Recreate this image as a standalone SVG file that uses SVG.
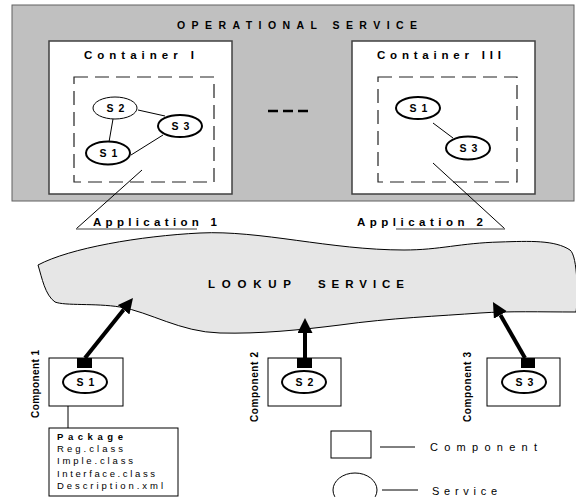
<svg xmlns="http://www.w3.org/2000/svg" width="576" height="497" viewBox="0 0 576 497">
<style>
text{font-family:"Liberation Sans",Arial,sans-serif;fill:#000}
.b{font-weight:bold}
.ttl{font-size:10.5px;font-weight:bold}
.lbl{font-size:11.5px;font-weight:bold}
.sv{font-size:10.5px;font-weight:bold;text-anchor:middle;letter-spacing:1px}
.cont{fill:#fff;stroke:#404040;stroke-width:1.5}
.dash{fill:none;stroke:#222;stroke-width:1.2;stroke-dasharray:14 7}
.svc{fill:#fff;stroke:#000;stroke-width:2}
.svt{fill:#fff;stroke:#000;stroke-width:1}
.thin{stroke:#000;stroke-width:1;fill:none}
.comp{fill:#fff;stroke:#000;stroke-width:1}
.arr{stroke:#000;stroke-width:4;fill:none}
.pk{font-size:9.5px}
.vl{font-size:10px;font-weight:bold}
.lg{font-size:11px}
</style>
<defs>
<marker id="ah" markerUnits="userSpaceOnUse" markerWidth="16" markerHeight="16" refX="0" refY="7.5" orient="auto">
<path d="M0,0 L15,7.5 L0,15 z" fill="#000"/>
</marker>
</defs>

<g id="operational-service">
<rect x="12" y="5" width="562" height="196" fill="#c0c0c0" stroke="#606060" stroke-width="1"/>
<text class="ttl" x="177" y="29" textLength="240" lengthAdjust="spacing">OPERATIONAL SERVICE</text>
<g stroke="#000" stroke-width="2.5">
<line x1="268" y1="111" x2="278" y2="111"/>
<line x1="283" y1="111" x2="293" y2="111"/>
<line x1="298" y1="111" x2="308" y2="111"/>
</g>
</g>

<g id="container-1">
<rect class="cont" x="49" y="41" width="183" height="153"/>
<text class="lbl" x="84" y="59" textLength="110" lengthAdjust="spacing">Container I</text>
<rect class="dash" x="74" y="77" width="140" height="105"/>
<line class="thin" x1="138" y1="110" x2="165" y2="116"/>
<line class="thin" x1="113" y1="119" x2="109" y2="142"/>
<line class="thin" x1="131" y1="155" x2="163" y2="135"/>
<ellipse class="svt" cx="115" cy="108" rx="22" ry="11"/>
<text class="sv" x="116" y="112">S 2</text>
<ellipse class="svc" cx="180" cy="126" rx="22" ry="11"/>
<text class="sv" x="181" y="130">S 3</text>
<ellipse class="svc" cx="108" cy="153" rx="22" ry="11.5"/>
<text class="sv" x="109" y="157">S 1</text>
</g>

<g id="container-3">
<rect class="cont" x="352" y="41" width="183" height="153"/>
<text class="lbl" x="377" y="59" textLength="124" lengthAdjust="spacing">Container III</text>
<rect class="dash" x="378" y="77" width="139" height="105"/>
<line class="thin" x1="433" y1="123" x2="453" y2="138"/>
<ellipse class="svc" cx="418" cy="108" rx="22" ry="11"/>
<text class="sv" x="419" y="112">S 1</text>
<ellipse class="svc" cx="468" cy="148" rx="22" ry="11.5"/>
<text class="sv" x="469" y="152">S 3</text>
</g>

<g id="application-1">
<line class="thin" x1="142" y1="170" x2="76" y2="229"/>
<line x1="76" y1="229" x2="197" y2="229" stroke="#808080" stroke-width="1.5"/>
<text class="lbl" x="93" y="226" textLength="124" lengthAdjust="spacing">Application 1</text>
</g>

<g id="application-2">
<line class="thin" x1="433" y1="163" x2="505" y2="229"/>
<line x1="396" y1="229" x2="505" y2="229" stroke="#808080" stroke-width="1.5"/>
<text class="lbl" x="357" y="226" textLength="126" lengthAdjust="spacing">Application 2</text>
</g>

<g id="lookup-service">
<path d="M38,265 C70,248 140,236 200,233 C260,230 330,250 404,250 C440,250 460,243 500,242 C530,241 555,240 570,250 C578,256 578,300 576,312 C540,312 510,311 480,313 C440,316 390,318 340,325 C300,330 260,334 220,333 C180,332 150,312 120,307 C95,303 65,306 55,302 C45,295 42,278 38,265 Z" fill="#e6e6e6" stroke="#000" stroke-width="1"/>
<text class="lbl" x="208" y="287.5" textLength="83" lengthAdjust="spacing">LOOKUP</text>
<text class="lbl" x="318" y="287.5" textLength="86" lengthAdjust="spacing">SERVICE</text>
</g>

<g id="component-1">
<rect class="comp" x="49" y="358" width="74" height="48"/>
<rect x="77" y="358" width="15" height="10" fill="#000"/>
<ellipse class="svc" cx="85" cy="382" rx="22" ry="11"/>
<text class="sv" x="86" y="386">S 1</text>
<text class="vl" x="39" y="418" transform="rotate(-90 39 418)" textLength="68" lengthAdjust="spacing">Component 1</text>
</g>

<g id="component-2">
<rect class="comp" x="268" y="358" width="73" height="48"/>
<rect x="297" y="358" width="15" height="10" fill="#000"/>
<ellipse class="svc" cx="304" cy="382" rx="22" ry="11"/>
<text class="sv" x="305" y="386">S 2</text>
<text class="vl" x="258" y="422" transform="rotate(-90 258 422)" textLength="70" lengthAdjust="spacing">Component 2</text>
</g>

<g id="component-3">
<rect class="comp" x="487" y="358" width="73" height="48"/>
<rect x="521" y="358" width="14" height="10" fill="#000"/>
<ellipse class="svc" cx="524" cy="382" rx="22" ry="11"/>
<text class="sv" x="525" y="386">S 3</text>
<text class="vl" x="471" y="422" transform="rotate(-90 471 422)" textLength="70" lengthAdjust="spacing">Component 3</text>
</g>

<g id="package">
<rect class="comp" x="49" y="428" width="129" height="68"/>
<text class="pk b" x="57" y="440" textLength="66" lengthAdjust="spacing">Package</text>
<text class="pk" x="57" y="452" textLength="66" lengthAdjust="spacing">Reg.class</text>
<text class="pk" x="57" y="464" textLength="76" lengthAdjust="spacing">Imple.class</text>
<text class="pk" x="57" y="477" textLength="98" lengthAdjust="spacing">Interface.class</text>
<text class="pk" x="57" y="489" textLength="106" lengthAdjust="spacing">Description.xml</text>
</g>

<g id="legend">
<rect class="comp" x="331" y="431" width="40" height="27"/>
<line class="thin" x1="380" y1="447" x2="415" y2="447"/>
<text class="lg" x="430" y="451" textLength="107" lengthAdjust="spacing">Component</text>
<ellipse class="svt" cx="355" cy="490" rx="22" ry="17"/>
<line class="thin" x1="382" y1="490" x2="418" y2="490"/>
<text class="lg" x="432" y="495" textLength="65" lengthAdjust="spacing">Service</text>
</g>

<g id="connectors">
<line class="thin" x1="68" y1="406" x2="68" y2="428"/>
<line class="arr" x1="85" y1="358" x2="123.6" y2="309.7" marker-end="url(#ah)"/>
<line class="arr" x1="305" y1="358" x2="305" y2="333" marker-end="url(#ah)"/>
<line class="arr" x1="525" y1="358" x2="500.4" y2="315" marker-end="url(#ah)"/>
</g>
</svg>
